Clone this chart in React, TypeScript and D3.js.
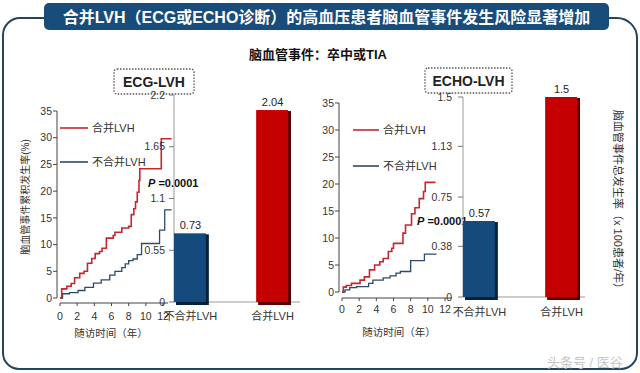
import React from 'react'
import * as d3 from 'd3'

const FONT = '"Liberation Sans", Arial, "Noto Sans CJK SC", sans-serif'

// Kaplan-Meier steps: follow-up years and cumulative rate (%)
const ecgLvhYears = [0, 0.2, 0.8, 1.3, 1.7, 2.3, 2.8, 3.2, 3.7, 4.1, 4.6, 4.9, 5.4, 6.2, 6.4, 7.2, 8.0, 8.3, 8.6, 8.8, 9.0, 9.2, 9.3, 11.8, 13.0]
const ecgLvhRates = [0, 1.7, 2.2, 2.7, 3.8, 4.6, 5.0, 6.5, 7.4, 8.3, 8.7, 9.3, 11.2, 11.7, 12.3, 13.1, 13.4, 15.6, 16.7, 18.0, 19.8, 22.0, 24.2, 29.8, 29.8]
const ecgNoLvhYears = [0, 0.3, 1.1, 2.1, 2.9, 3.9, 4.8, 5.8, 6.4, 7.2, 7.6, 8.0, 8.5, 9.0, 9.5, 11.6, 12.2, 13.0]
const ecgNoLvhRates = [0, 0.8, 1.0, 1.4, 2.0, 2.8, 3.4, 4.3, 5.0, 5.7, 6.4, 7.0, 7.3, 8.1, 10.2, 12.7, 16.5, 16.5]
const echoLvhYears = [0, 0.15, 0.5, 1.1, 2.1, 2.6, 3.2, 3.8, 4.4, 4.8, 5.4, 5.8, 6.0, 7.1, 7.4, 8.1, 8.5, 9.0, 9.5, 9.7, 10.9]
const echoLvhRates = [0, 0.9, 1.2, 1.6, 2.2, 2.8, 4.1, 5.0, 5.6, 6.2, 7.5, 8.1, 9.0, 10.9, 12.4, 14.5, 15.6, 17.3, 18.6, 20.3, 20.3]
const echoNoLvhYears = [0, 0.35, 0.9, 1.7, 3.1, 3.6, 4.8, 5.6, 6.3, 6.8, 8.0, 9.6, 11.0]
const echoNoLvhRates = [0, 0.4, 0.8, 1.0, 1.6, 2.2, 2.6, 3.0, 3.5, 3.8, 5.8, 7.0, 7.0]

const kmYTicks = [0, 5, 10, 15, 20, 25, 30, 35]
const kmXTicks = [0, 2, 4, 6, 8, 10, 12]

const barCategories = ['不合并LVH', '合并LVH']
const ecgBarValues = [0.73, 2.04]
const echoBarValues = [0.57, 1.5]
const ecgBarTicks = [0, 0.55, 1.1, 1.65, 2.2]
const echoBarTicks = [0, 0.38, 0.75, 1.13, 1.5]

const RED = '#c4282e'
const BLUE_LINE = '#2d4a66'
const barFill = ['#144a7c', '#c40000']
const barShade = ['#08213a', '#5a0000']

const zip = (a: number[], b: number[]) => a.map((v, i) => [v, b[i]] as [number, number])

function Panel(props: any) {
  const { L, title, lvh, noLvh, barValues, barTicks } = props
  const x = d3.scaleLinear().domain([0, 12]).range([L.kmLeft, L.kmRight])
  const y = d3.scaleLinear().domain([0, 35]).range([L.kmBottom, L.kmTop])
  const line = d3.line<[number, number]>().x(d => x(d[0])).y(d => y(d[1])).curve(d3.curveStepAfter)
  const by = d3.scaleLinear().domain([0, barTicks[barTicks.length - 1]]).range([L.barBottom, L.barTop])
  const bx = d3.scaleBand().domain(barCategories).range([L.barLeft, L.barRight]).paddingInner(0.6).paddingOuter(0)
  const bw = bx.bandwidth()

  return (
    <g>
      {/* title box */}
      <rect x={L.boxX} y={L.boxY} width={L.boxW} height={25} rx={3} fill="#fff" stroke="#555" strokeWidth={1.3} strokeDasharray="1.5,1.5" />
      <text x={L.boxX + L.boxW / 2} y={L.boxY + 18} textAnchor="middle" fontSize={14} fontWeight="bold" fill="#222">{title}</text>

      {/* KM axes */}
      <line x1={L.yAxisX} x2={L.yAxisX} y1={y(35)} y2={y(0)} stroke="#444" />
      {kmYTicks.map(t => (
        <g key={'y' + t}>
          <line x1={L.yAxisX - 4} x2={L.yAxisX} y1={y(t)} y2={y(t)} stroke="#444" />
          <text x={L.yAxisX - 5} y={y(t)} dy="0.35em" textAnchor="end" fontSize={10.5} fill="#333">{t}</text>
        </g>
      ))}
      <line x1={x(0)} x2={L.xAxisEnd} y1={L.xAxisY} y2={L.xAxisY} stroke="#444" />
      {kmXTicks.map(t => (
        <g key={'x' + t}>
          <line x1={x(t)} x2={x(t)} y1={L.xAxisY} y2={L.xAxisY + 3} stroke="#444" />
          <text x={x(t)} y={L.xLabelY} dy="0.35em" textAnchor="middle" fontSize={10.5} fill="#333">{t}</text>
        </g>
      ))}
      <text x={L.xTitleX} y={L.xTitleY} dy="0.35em" textAnchor="middle" fontSize={10.5} fill="#333">随访时间（年）</text>

      {/* curves */}
      <path d={line(zip(noLvh[0], noLvh[1])) || ''} fill="none" stroke={BLUE_LINE} strokeWidth={1.3} />
      <path d={line(zip(lvh[0], lvh[1])) || ''} fill="none" stroke={RED} strokeWidth={1.6} />

      {/* legend */}
      <line x1={L.legX} x2={L.legX + L.legW} y1={L.legY1} y2={L.legY1} stroke={RED} strokeWidth={1.6} />
      <text x={L.legX + L.legW + 4} y={L.legY1} dy="0.35em" fontSize={11} fill="#333">合并LVH</text>
      <line x1={L.legX} x2={L.legX + L.legW} y1={L.legY2} y2={L.legY2} stroke={BLUE_LINE} strokeWidth={1.6} />
      <text x={L.legX + L.legW + 4} y={L.legY2} dy="0.35em" fontSize={11} fill="#333">不合并LVH</text>

      <text x={L.pX} y={L.pY} dy="0.35em" fontSize={11} fontWeight="bold" fill="#111">
        <tspan fontStyle="italic">P</tspan> =0.0001
      </text>

      {/* bars */}
      <line x1={L.barLeft} x2={L.barLeft} y1={by.range()[1]} y2={by(0)} stroke="#999" />
      <line x1={L.barLeft} x2={L.baseEnd} y1={by(0)} y2={by(0)} stroke="#999" />
      {barTicks.map((t: number) => (
        <g key={'b' + t}>
          <line x1={L.barLeft - 5} x2={L.barLeft} y1={by(t)} y2={by(t)} stroke="#777" />
          <text x={L.barLeft - L.tickGap} y={by(t)} dy="0.35em" textAnchor="end" fontSize={10.5} fill="#333">{t}</text>
        </g>
      ))}
      {barCategories.map((c, i) => {
        const bx0 = bx(c) as number
        return (
          <g key={c}>
            <rect x={bx0 + 2} y={by(barValues[i]) + 1} width={bw} height={by(0) - by(barValues[i]) + 2} fill={barShade[i]} />
            <rect x={bx0} y={by(barValues[i])} width={bw - 1} height={by(0) - by(barValues[i])} fill={barFill[i]} />
            <text x={bx0 + bw / 2} y={by(barValues[i]) - 4} textAnchor="middle" fontSize={11} fill="#222">{barValues[i]}</text>
            <text x={bx0 + bw / 2} y={L.catY} dy="0.35em" textAnchor="middle" fontSize={11} fill="#333">{c}</text>
          </g>
        )
      })}
    </g>
  )
}

const leftLayout = {
  boxX: 114, boxY: 69, boxW: 80,
  kmLeft: 60, kmRight: 163, kmBottom: 298, kmTop: 111,
  yAxisX: 57, xAxisY: 303, xAxisEnd: 168, xLabelY: 316, xTitleX: 111, xTitleY: 333,
  legX: 60, legW: 28, legY1: 128, legY2: 162,
  pX: 148, pY: 183,
  barLeft: 174, barRight: 289, barBottom: 302, barTop: 95, baseEnd: 300, tickGap: 9, catY: 316,
}

const rightLayout = {
  boxX: 425, boxY: 68, boxW: 87,
  kmLeft: 342, kmRight: 445, kmBottom: 292, kmTop: 103,
  yAxisX: 339, xAxisY: 298, xAxisEnd: 452, xLabelY: 309, xTitleX: 399, xTitleY: 332,
  legX: 353, legW: 26, legY1: 130, legY2: 166,
  pX: 417, pY: 221,
  barLeft: 463, barRight: 578, barBottom: 297, barTop: 97, baseEnd: 585, tickGap: 11, catY: 312,
}

export default function App() {
  return (
    <svg width={640} height={373} style={{ position: 'absolute', left: 0, top: 0, background: '#fff' }} fontFamily={FONT}>
      <path d="M44 18 H20 A17 17 0 0 0 3 35 V353 A16 16 0 0 0 19 369 H621 A16 16 0 0 0 637 353 V38 A20 20 0 0 0 617 18 H609"
        fill="none" stroke="#25455d" strokeWidth={2} />
      <rect x={44} y={3} width={565} height={27} rx={5} fill="#184c7a" />
      <text x={326.5} y={22.5} textAnchor="middle" fontSize={16} fontWeight="bold" fill="#fff">合并LVH（ECG或ECHO诊断）的高血压患者脑血管事件发生风险显著增加</text>
      <text x={318} y={54} dy="0.35em" textAnchor="middle" fontSize={13} fontWeight="bold" fill="#111">脑血管事件：卒中或TIA</text>

      <text transform="translate(25,197) rotate(-90)" dy="0.35em" textAnchor="middle" fontSize={10} fill="#333">脑血管事件累积发生率(%)</text>
      <text transform="translate(618,202) rotate(90)" dy="0.35em" textAnchor="middle" fontSize={11} fill="#333">脑血管事件总发生率（x 100患者/年）</text>

      <Panel L={leftLayout} title="ECG-LVH" lvh={[ecgLvhYears, ecgLvhRates]} noLvh={[ecgNoLvhYears, ecgNoLvhRates]} barValues={ecgBarValues} barTicks={ecgBarTicks} />
      <Panel L={rightLayout} title="ECHO-LVH" lvh={[echoLvhYears, echoLvhRates]} noLvh={[echoNoLvhYears, echoNoLvhRates]} barValues={echoBarValues} barTicks={echoBarTicks} />

      <text x={547} y={362} dy="0.35em" fontSize={13} fill="#c4c4c4">头条号 / 医谷</text>
    </svg>
  )
}
